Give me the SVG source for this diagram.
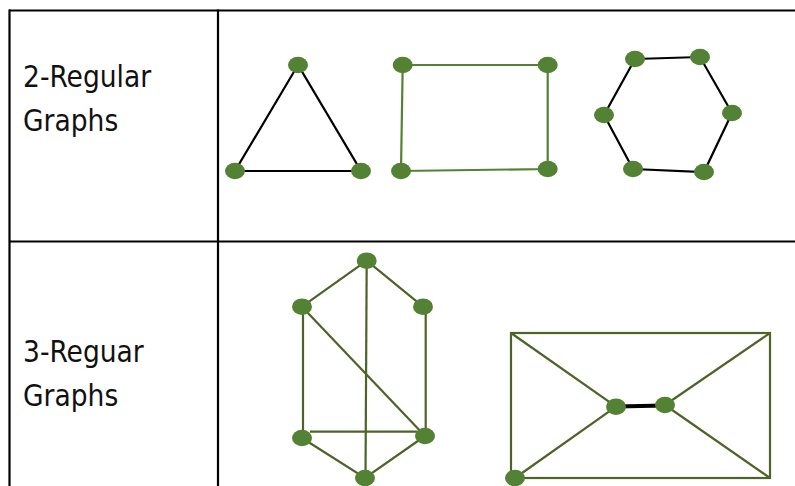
<svg xmlns="http://www.w3.org/2000/svg" width="795" height="486" viewBox="0 0 795 486">
<style>
.grid{stroke:#000;stroke-width:2.2;fill:none}
.lbl{font-family:"DejaVu Sans Condensed","DejaVu Sans",sans-serif;font-size:29.5px;fill:#111}
.n{fill:#548235}
.eb{stroke:#000;stroke-width:2.2;fill:none}
.eg{stroke:#548235;stroke-width:2.2;fill:none}
.eo{stroke:#4f6228;stroke-width:2.2;fill:none}
.ek{stroke:#000;stroke-width:4;fill:none}
</style>
<rect width="795" height="486" fill="#fff"/>
<g id="table">
<line class="grid" x1="9" y1="10.5" x2="795" y2="10.5"/>
<line class="grid" x1="9" y1="241.5" x2="795" y2="241.5"/>
<line class="grid" x1="9.5" y1="9.5" x2="9.5" y2="486"/>
<line class="grid" x1="218" y1="9.5" x2="218" y2="486"/>
</g>
<g id="labels">
<text class="lbl" x="23" y="87">2-Regular</text>
<text class="lbl" x="23" y="131">Graphs</text>
<text class="lbl" x="23" y="362">3-Reguar</text>
<text class="lbl" x="23" y="406">Graphs</text>
</g>
<g id="connectors">
<polygon class="eb" points="298,65 235,171 361,171"/>
<polygon class="eg" points="402.7,65 547.7,65 547.7,169 401,171"/>
<polygon class="eb" points="635,59 700,57 732,113 704,172 633,169 604,115"/>
<polyline class="eo" points="302,306.7 366.7,260.7 423,306.7"/>
<line class="eo" x1="366.7" y1="260.7" x2="365.5" y2="478"/>
<line class="eo" x1="303" y1="306.7" x2="303" y2="438"/>
<line class="eo" x1="302" y1="306.7" x2="425" y2="436"/>
<line class="eo" x1="425.7" y1="306.7" x2="425.7" y2="436"/>
<line class="eo" x1="310" y1="431.7" x2="417" y2="431.7"/>
<polyline class="eo" points="302,438 365,478 425,436"/>
<rect class="eo" x="511" y="333" width="259" height="145"/>
<line class="eo" x1="511" y1="333" x2="616" y2="406.7"/>
<line class="eo" x1="515" y1="478" x2="616" y2="406.7"/>
<line class="eo" x1="770" y1="333" x2="665" y2="405"/>
<line class="eo" x1="770" y1="478" x2="665" y2="405"/>
<line class="ek" x1="616" y1="406.5" x2="665" y2="405.5"/>
</g>
<g id="n1"><ellipse class="n" cx="298" cy="65" rx="10" ry="8.3"/></g>
<g id="n2"><ellipse class="n" cx="235" cy="171" rx="10" ry="8.3"/></g>
<g id="n3"><ellipse class="n" cx="361" cy="171" rx="10" ry="8.3"/></g>
<g id="n4"><ellipse class="n" cx="402.7" cy="65" rx="10" ry="8.3"/></g>
<g id="n5"><ellipse class="n" cx="547.7" cy="65" rx="10" ry="8.3"/></g>
<g id="n6"><ellipse class="n" cx="547.7" cy="169" rx="10" ry="8.3"/></g>
<g id="n7"><ellipse class="n" cx="401" cy="171" rx="10" ry="8.3"/></g>
<g id="n8"><ellipse class="n" cx="635" cy="59" rx="10" ry="8.3"/></g>
<g id="n9"><ellipse class="n" cx="700" cy="57" rx="10" ry="8.3"/></g>
<g id="n10"><ellipse class="n" cx="732" cy="113" rx="10" ry="8.3"/></g>
<g id="n11"><ellipse class="n" cx="704" cy="172" rx="10" ry="8.3"/></g>
<g id="n12"><ellipse class="n" cx="633" cy="169" rx="10" ry="8.3"/></g>
<g id="n13"><ellipse class="n" cx="604" cy="115" rx="10" ry="8.3"/></g>
<g id="n14"><ellipse class="n" cx="366.7" cy="260.7" rx="10" ry="8.3"/></g>
<g id="n15"><ellipse class="n" cx="302" cy="306.7" rx="10" ry="8.3"/></g>
<g id="n16"><ellipse class="n" cx="423" cy="306.7" rx="10" ry="8.3"/></g>
<g id="n17"><ellipse class="n" cx="302" cy="438" rx="10" ry="8.3"/></g>
<g id="n18"><ellipse class="n" cx="425" cy="436" rx="10" ry="8.3"/></g>
<g id="n19"><ellipse class="n" cx="365" cy="478" rx="10" ry="8.3"/></g>
<g id="n20"><ellipse class="n" cx="515" cy="478" rx="10" ry="8.3"/></g>
<g id="n21"><ellipse class="n" cx="616" cy="406.7" rx="10" ry="8.3"/></g>
<g id="n22"><ellipse class="n" cx="665" cy="405" rx="10" ry="8.3"/></g>
</svg>
